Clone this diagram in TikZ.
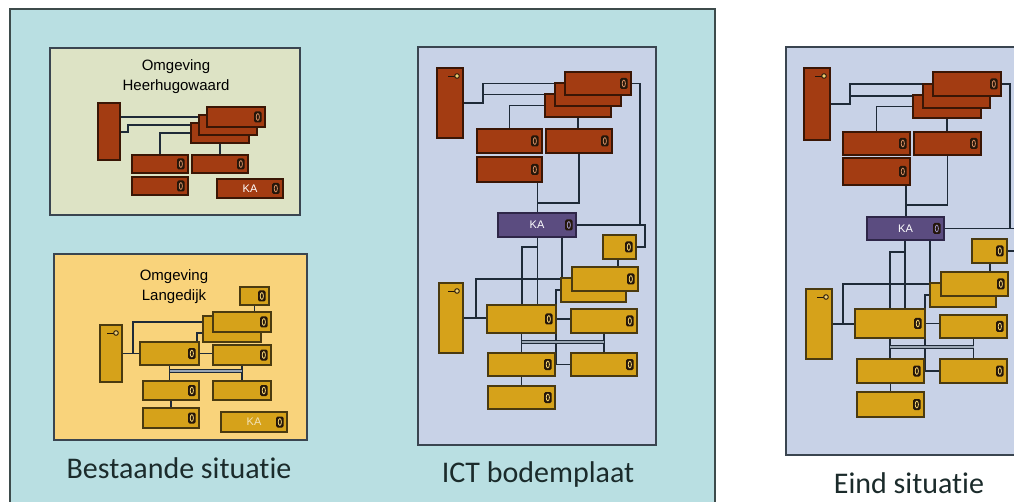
\documentclass[tikz,border=0pt]{standalone}
\usepackage{fontspec}
\setmainfont{Carlito}[Ligatures=NoCommon]
\newfontfamily\smallsans{Liberation Sans}
\usetikzlibrary{calc}
\pgfdeclarelayer{panel}
\pgfdeclarelayer{lines}
\pgfsetlayers{panel,lines,main}
\definecolor{tealF}{HTML}{B9DFE2}
\definecolor{tealD}{HTML}{3D4B4B}
\definecolor{hhwF}{HTML}{DDE3C5}
\definecolor{ldF}{HTML}{F9D37B}
\definecolor{ictF}{HTML}{C8D2E7}
\definecolor{pnlD}{HTML}{3A4550}
\definecolor{brnF}{HTML}{A33C12}
\definecolor{brnD}{HTML}{3A1605}
\definecolor{gldF}{HTML}{D6A21A}
\definecolor{gldD}{HTML}{4A3A10}
\definecolor{kaF}{HTML}{5B4C80}
\definecolor{kaD}{HTML}{2E2648}
\definecolor{lnC}{HTML}{1E2A38}
\definecolor{busC}{HTML}{9AA6B4}
\definecolor{plugD}{HTML}{24160A}
\definecolor{plugB}{HTML}{D08A60}
\definecolor{plugG}{HTML}{F0D070}
\definecolor{plugK}{HTML}{9A90C0}
\definecolor{lblC}{HTML}{1B2B2B}
\newcommand{\mkbox}[7]{%
  \pgfmathsetmacro\myBW{#5-#3}\pgfmathsetmacro\myBH{#6-#4}%
  \node[#1, minimum width=\myBW pt, minimum height=\myBH pt, anchor=north west] (#2) at (#3,#4) {#7};}
\newcommand{\mkplug}[2]{%
  \fill[plugD, rounded corners=1.5pt] ([xshift=-11pt,yshift=-5.5pt]#1.east) rectangle ([xshift=-3.5pt,yshift=5.5pt]#1.east);
  \draw[#2, line width=0.8pt] ([xshift=-7.2pt]#1.east) ellipse (1.6pt and 3.4pt);}
\newcommand{\mkkey}[1]{%
  \draw[plugD, line width=0.9pt] ([xshift=-15pt,yshift=-8pt]#1.north east) -- ([xshift=-8.5pt,yshift=-8pt]#1.north east);
  \draw[plugD, line width=0.9pt, fill=plugG] ([xshift=-6pt,yshift=-8pt]#1.north east) circle (2.3pt);}
\begin{document}
\begin{tikzpicture}[x=1pt,y=-1pt,
  pnl/.style={inner sep=0pt, outer sep=0pt, line width=1.2pt, draw=pnlD},
  brbox/.style={fill=brnF, draw=brnD, line width=1.1pt, inner sep=0pt, outer sep=0pt},
  gdbox/.style={fill=gldF, draw=gldD, line width=1.1pt, inner sep=0pt, outer sep=0pt},
  kafont/.style={font=\smallsans\fontsize{11}{11}\selectfont},
  kabox/.style={fill=kaF, draw=kaD, line width=1.1pt, inner sep=0pt, outer sep=0pt, text=white, kafont},
  bkabox/.style={brbox, text=white, kafont},
  gkabox/.style={gdbox, text=white, text opacity=0.7, kafont},
  wire/.style={draw=lnC, line width=1.7pt},
  bus/.style={draw=lnC, line width=1pt, double=busC, double distance=2.2pt},
  lbl/.style={font=\fontsize{30}{35}\selectfont, text=lblC, inner sep=0pt},
  ttl/.style={font=\smallsans\fontsize{15}{20}\selectfont, align=center, inner sep=0pt, text=black},
]
\useasboundingbox (0,0) rectangle (1014,502);
\begin{pgfonlayer}{panel}
\fill[white] (0,0) rectangle (1014,502);
\fill[tealF] (10,9) rectangle (715,502);
\draw[tealD, line width=1.5pt] (10,503) -- (10,9) -- (715,9) -- (715,503);
\mkbox{pnl, fill=hhwF}{pH}{50}{48}{300}{215}{}
\mkbox{pnl, fill=ldF}{pL}{54}{254}{307}{440}{}
\mkbox{pnl, fill=ictF}{pC}{418}{47}{656}{445}{}
\fill[ictF] (786,47) rectangle (1014,455);
\draw[pnlD, line width=1.3pt] (1015,47) -- (786,47) -- (786,455) -- (1015,455);
\end{pgfonlayer}

% labels
\node[lbl, anchor=base] (tB) at (179,478) {Bestaande situatie};
\node[lbl, anchor=base] (tC) at (538,482) {ICT bodemplaat};
\node[lbl, anchor=base] (tE) at (909,493) {Eind situatie};
\node[ttl] (tH) at (176,77) {Omgeving\\Heerhugowaard};
\node[ttl] (tL) at (174,287) {Omgeving\\Langedijk};

% ---------------- Heerhugowaard
\mkbox{brbox}{h0}{98}{103}{120}{160}{}
\mkbox{brbox}{hb3}{191}{123}{249}{143}{}
\mkbox{brbox}{hb2}{199}{115}{257}{135}{}
\mkbox{brbox}{hb1}{207}{107}{265}{127}{}\mkplug{hb1}{plugB}
\mkbox{brbox}{hr1}{132}{155}{188}{173}{}\mkplug{hr1}{plugB}
\mkbox{brbox}{hr2}{192}{155}{248}{173}{}\mkplug{hr2}{plugB}
\mkbox{brbox}{hr3}{132}{177}{188}{195}{}\mkplug{hr3}{plugB}
\mkbox{bkabox}{hka}{217}{179}{283}{198}{KA}\mkplug{hka}{plugB}
\begin{pgfonlayer}{lines}
\draw[wire] (h0.east |- hb1.west) -- (hb1.west);
\draw[wire] (h0.east |- 0,132) -| (hb2.west -| 128,0) -- (hb2.west);
\draw[wire] (hb3.west) -| (hr1.north);
\draw[wire] (hb3.south) -- (hb3.south |- hr2.north);
\end{pgfonlayer}

% ---------------- Langedijk
\mkbox{gdbox}{l0}{100}{325}{122}{382}{}\mkkey{l0}
\mkbox{gdbox}{lt}{240}{287}{269}{305}{}\mkplug{lt}{plugG}
\mkbox{gdbox}{lb2}{203}{316}{261}{342}{}
\mkbox{gdbox}{lb1}{213}{312}{271}{332}{}\mkplug{lb1}{plugG}
\mkbox{gdbox}{lm1}{140}{342}{199}{365}{}\mkplug{lm1}{plugG}
\mkbox{gdbox}{lm2}{213}{345}{271}{365}{}\mkplug{lm2}{plugG}
\mkbox{gdbox}{ll1}{143}{381}{199}{400}{}\mkplug{ll1}{plugG}
\mkbox{gdbox}{ll2}{213}{381}{271}{400}{}\mkplug{ll2}{plugG}
\mkbox{gdbox}{lbt}{143}{408}{199}{428}{}\mkplug{lbt}{plugG}
\mkbox{gkabox}{lka}{221}{412}{287}{432}{KA}\mkplug{lka}{plugG}
\begin{pgfonlayer}{lines}
\draw[wire] (l0.east |- lm1.west) -- (lm1.west);
\draw[wire] (lm1.west -| 133,0) |- (lb2.west |- 0,322);
\draw[wire] (lm1.north -| 197,0) |- (lb2.west |- 0,333);
\draw[wire] (lt.south) -- (lt.south |- lb1.north);
\draw[wire] (lm1.east) -- (lm1.east -| lm2.west);
\draw[wire] (lm1.south) -- (lm1.south |- ll1.north);
\draw[wire] (ll1.south) -- (ll1.south |- lbt.north);
\draw[wire] (lm2.south) -- (lm2.south |- ll2.north);
\draw[bus] (lm1.south |- 0,371) -- (lm2.south |- 0,371);
\end{pgfonlayer}

% ---------------- ICT bodemplaat
\mkbox{brbox}{c0}{437}{68}{463}{138}{}\mkkey{c0}
\mkbox{brbox}{cb3}{545}{94}{611}{117}{}
\mkbox{brbox}{cb2}{555}{83}{621}{106}{}
\mkbox{brbox}{cb1}{565}{72}{631}{95}{}\mkplug{cb1}{plugB}
\mkbox{brbox}{cr1}{477}{129}{542}{153}{}\mkplug{cr1}{plugB}
\mkbox{brbox}{cr2}{546}{129}{612}{153}{}\mkplug{cr2}{plugB}
\mkbox{brbox}{cr3}{477}{157}{542}{182}{}\mkplug{cr3}{plugB}
\mkbox{kabox}{cka}{498}{213}{576}{237}{KA}\mkplug{cka}{plugK}
\mkbox{gdbox}{cg0}{439}{283}{463}{353}{}\mkkey{cg0}
\mkbox{gdbox}{csm}{603}{235}{636}{259}{}\mkplug{csm}{plugG}
\mkbox{gdbox}{cs2}{561}{278}{626}{302}{}
\mkbox{gdbox}{cs1}{572}{267}{638}{291}{}\mkplug{cs1}{plugG}
\mkbox{gdbox}{cmain}{487}{305}{556}{333}{}\mkplug{cmain}{plugG}
\mkbox{gdbox}{cmr}{571}{309}{637}{333}{}\mkplug{cmr}{plugG}
\mkbox{gdbox}{cll}{488}{353}{555}{376}{}\mkplug{cll}{plugG}
\mkbox{gdbox}{clr}{571}{353}{637}{376}{}\mkplug{clr}{plugG}
\mkbox{gdbox}{cbt}{488}{386}{555}{409}{}\mkplug{cbt}{plugG}
\begin{pgfonlayer}{lines}
\draw[wire] (c0.east) -| (cb1.west -| 483,0) -- (cb1.west);
\draw[wire] (cb2.west -| 483,0) -- (cb2.west);
\draw[wire] (cb3.west) -| (cr1.north);
\draw[wire] (cb3.south) -- (cb3.south |- cr2.north);
\draw[wire] (cb1.east) -| (cka.east -| 640,0);
\draw[wire] (cka.east) -| (csm.east -| 645,0) -- (csm.east);
\draw[wire] (cr2.south) |- (537.5,203);
\draw[wire] (cr3.south -| 537.5,0) -- (cka.north -| 537.5,0);
\draw[wire] (cka.south -| 537.5,0) -- (cmain.north -| 537.5,0);
\draw[wire] (537.5,247) -| (cmain.north -| 522,0);
\draw[wire] (cka.south -| 562,0) -- (562,279);
\draw[wire] (cs1.west) -| (cmain.west -| 476,0);
\draw[wire] (cg0.east) -- (cg0.east -| cmain.west);
\draw[wire] (csm.south -| 618,0) -- (cs1.north -| 618,0);
\draw[wire] (cs2.west) -| (clr.west -| 556,0) -- (clr.west);
\draw[wire] (cmain.east) -- (cmain.east -| cmr.west);
\draw[wire] (cmain.south) -- (cmain.south |- cll.north);
\draw[wire] (cmr.south) -- (cmr.south |- clr.north);
\draw[bus] (cmain.south |- 0,342) -- (cmr.south |- 0,342);
\draw[wire] (cll.south) -- (cll.south |- cbt.north);
\end{pgfonlayer}

% ---------------- Eind situatie
\mkbox{brbox}{e0}{804}{68}{830}{140}{}\mkkey{e0}
\mkbox{brbox}{eb3}{913}{95}{981}{118}{}
\mkbox{brbox}{eb2}{923}{84}{990}{108}{}
\mkbox{brbox}{eb1}{933}{72}{1001}{96}{}\mkplug{eb1}{plugB}
\mkbox{brbox}{er1}{843}{132}{910}{155}{}\mkplug{er1}{plugB}
\mkbox{brbox}{er2}{914}{132}{981}{155}{}\mkplug{er2}{plugB}
\mkbox{brbox}{er3}{843}{158}{910}{185}{}\mkplug{er3}{plugB}
\mkbox{kabox}{eka}{867}{217}{944}{240}{KA}\mkplug{eka}{plugK}
\mkbox{gdbox}{eg0}{806}{289}{832}{359}{}\mkkey{eg0}
\mkbox{gdbox}{esm}{972}{239}{1007}{263}{}\mkplug{esm}{plugG}
\mkbox{gdbox}{es2}{930}{283}{996}{307}{}
\mkbox{gdbox}{es1}{941}{272}{1008}{296}{}\mkplug{es1}{plugG}
\mkbox{gdbox}{emain}{855}{309}{925}{338}{}\mkplug{emain}{plugG}
\mkbox{gdbox}{emr}{940}{315}{1007}{338}{}\mkplug{emr}{plugG}
\mkbox{gdbox}{ell}{857}{359}{924}{383}{}\mkplug{ell}{plugG}
\mkbox{gdbox}{elr}{940}{359}{1007}{383}{}\mkplug{elr}{plugG}
\mkbox{gdbox}{ebt}{857}{392}{924}{417}{}\mkplug{ebt}{plugG}
\coordinate (eR) at (1016,0);
\begin{pgfonlayer}{lines}
\draw[wire] (e0.east) -| (eb1.west -| 850,0) -- (eb1.west);
\draw[wire] (eb2.west -| 850,0) -- (eb2.west);
\draw[wire] (eb3.west) -| (er1.north);
\draw[wire] (eb3.south) -- (eb3.south |- er2.north);
\draw[wire] (er2.south) |- (906,205);
\draw[wire] (er3.south -| 906,0) -- (eka.north -| 906,0);
\draw[wire] (eb1.east) -| (eka.east -| 1010,0);
\draw[wire] (eka.east) -- (eka.east -| eR);
\draw[wire] (esm.east) -- (esm.east -| eR);
\draw[wire] (eka.south -| 905,0) -- (emain.north -| 905,0);
\draw[wire] (905,252) -| (emain.north -| 890,0);
\draw[wire] (eka.south -| 930,0) -- (930,284);
\draw[wire] (es1.west) -| (emain.west -| 843,0);
\draw[wire] (eg0.east) -- (eg0.east -| emain.west);
\draw[wire] (esm.south -| 990,0) -- (es1.north -| 990,0);
\draw[wire] (es2.west) -| (elr.west -| 925,0) -- (elr.west);
\draw[wire] (emain.east) -- (emain.east -| emr.west);
\draw[wire] (emain.south) -- (emain.south |- ell.north);
\draw[wire] (emr.south) -- (emr.south |- elr.north);
\draw[bus] (emain.south |- 0,347) -- (emr.south |- 0,347);
\draw[wire] (ell.south) -- (ell.south |- ebt.north);
\end{pgfonlayer}
\end{tikzpicture}
\end{document}
